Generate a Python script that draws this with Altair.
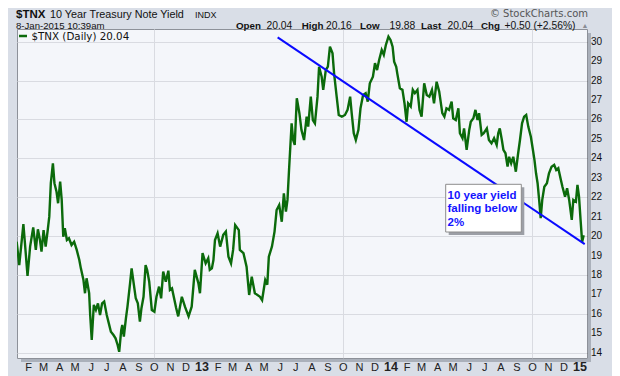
import altair as alt
import pandas as pd

# ---- data ----
dates = [
    "2012-01-09", "2012-01-14", "2012-01-17", "2012-01-22", "2012-01-25", "2012-01-30",
    "2012-02-04", "2012-02-10", "2012-02-15", "2012-02-19", "2012-02-23", "2012-02-26",
    "2012-03-01", "2012-03-05", "2012-03-09", "2012-03-12", "2012-03-15", "2012-03-19",
    "2012-03-22", "2012-03-26", "2012-03-29", "2012-04-02", "2012-04-05", "2012-04-08",
    "2012-04-11", "2012-04-15", "2012-04-19", "2012-04-24", "2012-04-29", "2012-05-04",
    "2012-05-09", "2012-05-12", "2012-05-17", "2012-05-20", "2012-05-23", "2012-05-28",
    "2012-05-30", "2012-06-02", "2012-06-06", "2012-06-10", "2012-06-14", "2012-06-18",
    "2012-06-22", "2012-06-26", "2012-07-01", "2012-07-05", "2012-07-09", "2012-07-14",
    "2012-07-18", "2012-07-22", "2012-07-25", "2012-07-29", "2012-07-31", "2012-08-03",
    "2012-08-07", "2012-08-10", "2012-08-15", "2012-08-18", "2012-08-22", "2012-08-26",
    "2012-08-30", "2012-09-03", "2012-09-06", "2012-09-10", "2012-09-14", "2012-09-17",
    "2012-09-21", "2012-09-26", "2012-10-01", "2012-10-05", "2012-10-10", "2012-10-14",
    "2012-10-18", "2012-10-23", "2012-10-28", "2012-10-31", "2012-11-04", "2012-11-12",
    "2012-11-16", "2012-11-23", "2012-11-29", "2012-12-06", "2012-12-12", "2012-12-18",
    "2012-12-25", "2012-12-28",
    "2013-01-02", "2013-01-08", "2013-01-13", "2013-01-16", "2013-01-20", "2013-01-23",
    "2013-01-26", "2013-01-31", "2013-02-05", "2013-02-11", "2013-02-16", "2013-02-21",
    "2013-02-26", "2013-03-02", "2013-03-06", "2013-03-13", "2013-03-15", "2013-03-22",
    "2013-03-28", "2013-04-02", "2013-04-07", "2013-04-13", "2013-04-23", "2013-04-27",
    "2013-05-03", "2013-05-07", "2013-05-10", "2013-05-16", "2013-05-21", "2013-05-25",
    "2013-05-30", "2013-06-04", "2013-06-08", "2013-06-12", "2013-06-15", "2013-06-18",
    "2013-06-23", "2013-06-26", "2013-06-29", "2013-07-03", "2013-07-08", "2013-07-12",
    "2013-07-17", "2013-07-22", "2013-07-25", "2013-07-30", "2013-08-03", "2013-08-07",
    "2013-08-12", "2013-08-15", "2013-08-20", "2013-08-23", "2013-08-28", "2013-09-01",
    "2013-09-05", "2013-09-10", "2013-09-13", "2013-09-18", "2013-09-22", "2013-09-28",
    "2013-10-04", "2013-10-09", "2013-10-14", "2013-10-17", "2013-10-21", "2013-10-25",
    "2013-10-30", "2013-11-03", "2013-11-08", "2013-11-13", "2013-11-17", "2013-11-21",
    "2013-11-27", "2013-12-01", "2013-12-05", "2013-12-09", "2013-12-14", "2013-12-18",
    "2013-12-22", "2013-12-27", "2013-12-31",
    "2014-01-04", "2014-01-07", "2014-01-11", "2014-01-13", "2014-01-18", "2014-01-23",
    "2014-01-27", "2014-01-31", "2014-02-03", "2014-02-08", "2014-02-12", "2014-02-16",
    "2014-02-21", "2014-02-25", "2014-03-01", "2014-03-06", "2014-03-11", "2014-03-16",
    "2014-03-21", "2014-03-25", "2014-03-30", "2014-04-04", "2014-04-10", "2014-04-14",
    "2014-04-18", "2014-04-23", "2014-04-28", "2014-05-01", "2014-05-06", "2014-05-11",
    "2014-05-14", "2014-05-19", "2014-05-22", "2014-05-27", "2014-06-01", "2014-06-04",
    "2014-06-09", "2014-06-13", "2014-06-17", "2014-06-20", "2014-06-25", "2014-06-29",
    "2014-07-05", "2014-07-09", "2014-07-14", "2014-07-19", "2014-07-24", "2014-07-27",
    "2014-07-30", "2014-08-03", "2014-08-06", "2014-08-10", "2014-08-14", "2014-08-17",
    "2014-08-21", "2014-08-25", "2014-08-30", "2014-09-03", "2014-09-07", "2014-09-11",
    "2014-09-15", "2014-09-19", "2014-09-23", "2014-09-28", "2014-10-02", "2014-10-05",
    "2014-10-08", "2014-10-11", "2014-10-14", "2014-10-17", "2014-10-20", "2014-10-24",
    "2014-10-29", "2014-11-02", "2014-11-07", "2014-11-12", "2014-11-16", "2014-11-20",
    "2014-11-25", "2014-11-28", "2014-12-03", "2014-12-07", "2014-12-11", "2014-12-16",
    "2014-12-19", "2014-12-24", "2014-12-27", "2014-12-30",
    "2015-01-02", "2015-01-05", "2015-01-08",
]

values = [
    19.71, 18.51, 19.29, 20.62, 19.63, 17.95,
    19.46, 20.45, 19.29, 20.35, 19.80, 19.20,
    20.31, 19.46, 20.31, 21.00, 22.72, 23.74,
    22.72, 22.28, 21.69, 22.80, 21.86, 19.97,
    20.40, 19.80, 19.89, 19.54, 19.71, 19.29,
    18.77, 18.34, 17.74, 17.06, 17.83, 17.06,
    15.94, 14.66, 16.46, 16.20, 16.54, 15.94,
    16.54, 16.63, 15.94, 15.51, 15.08, 14.91,
    14.74, 14.40, 14.05, 15.17, 15.43, 14.83,
    15.77, 16.37, 17.57, 18.34, 17.57, 16.80,
    16.54, 15.60, 16.29, 16.88, 18.51, 18.26,
    17.65, 16.20, 16.11, 16.88, 17.40, 16.80,
    18.17, 17.65, 18.22, 17.23, 17.31, 16.30,
    15.87, 16.88, 16.37, 15.87, 16.37, 18.26,
    17.57, 17.06,
    19.12, 18.60, 18.86, 18.26, 18.34, 18.77,
    19.80, 20.14, 19.46, 20.06, 20.23, 18.94,
    18.60, 19.29, 20.57, 20.31, 19.29, 19.12,
    18.43, 16.97, 17.91, 17.06, 16.88, 16.71,
    17.74, 17.50, 18.94, 19.46, 20.23, 21.34,
    21.60, 20.74, 22.20, 21.26, 21.86, 23.40,
    25.80, 24.94, 24.69, 27.09, 26.32, 25.46,
    24.94, 26.14, 25.63, 27.17, 25.97, 25.80,
    27.17, 28.71, 28.20, 27.52, 28.54, 28.71,
    29.74, 29.40, 28.37, 27.17, 26.23, 26.14,
    26.23, 26.49, 27.17, 26.32, 25.29, 24.94,
    25.46, 26.57, 27.26, 27.35, 26.91, 27.86,
    28.20, 28.89, 28.54, 29.06, 29.57, 29.32,
    29.83, 30.26, 30.09,
    29.74, 28.97, 28.71, 28.37, 27.60, 27.52,
    26.83, 25.88, 26.83, 26.66, 27.52, 27.35,
    27.52, 26.49, 26.14, 27.86, 27.26, 27.17,
    27.52, 26.83, 27.94, 27.43, 26.32, 26.14,
    26.57, 26.49, 26.91, 26.06, 25.97, 26.57,
    25.29, 25.03, 25.54, 24.43, 25.46, 25.88,
    26.06, 26.49, 25.97, 26.32, 25.20, 25.29,
    25.54, 24.94, 24.77, 25.03, 24.69, 25.29,
    25.54, 24.94, 24.43, 24.26, 23.57, 24.08,
    23.74, 24.08, 23.31, 24.17, 24.94, 25.80,
    26.14, 26.23, 25.63, 25.11, 24.43, 23.91,
    23.23, 22.72, 21.86, 20.92, 21.86, 22.54,
    22.72, 23.23, 23.57, 23.66, 23.40, 23.49,
    22.89, 22.54, 22.03, 22.46, 21.86, 20.83,
    21.86, 21.77, 22.63, 22.03,
    20.83, 19.70, 20.04,
]

trend_dates = ["2013-05-27", "2015-01-10"]
trend_values = [30.22, 19.59]

y_ticks = list(range(14, 31))
y_tick_labels = [str(v) for v in y_ticks]

month_letters = ["J", "F", "M", "A", "M", "J", "J", "A", "S", "O", "N", "D"]
month_tick_dates = [f"{y}-{m:02d}-01" for y in (2012, 2013, 2014) for m in range(2, 13)]
month_tick_labels = [month_letters[int(d[5:7]) - 1] for d in month_tick_dates]
year_tick_dates = ["2013-01-01", "2014-01-01", "2015-01-01"]
year_tick_labels = ["13", "14", "15"]

annotation_lines = ["10 year yield", "falling below", "2%"]

# ---- layout ----
W, H = 570, 329
df = pd.DataFrame({"date": dates, "yield": values})
tdf = pd.DataFrame({"date": trend_dates, "yield": trend_values})
mdf = pd.DataFrame({"date": month_tick_dates, "label": month_tick_labels})
ydf = pd.DataFrame({"date": year_tick_dates, "label": year_tick_labels})
vdf = pd.DataFrame({"v": y_ticks, "label": y_tick_labels})

x_scale = alt.Scale(
    type="utc",
    domain=[alt.DateTime(year=2012, month=1, date=9, hours=16, utc=True),
            alt.DateTime(year=2015, month=1, date=14, hours=10, utc=True)],
)
y_scale = alt.Scale(domain=[13.73, 30.65], nice=False, zero=False)

all_ticks = sorted(month_tick_dates + year_tick_dates)
is_jan = "utcmonth(datum.value) == 0"
x_axis = alt.Axis(
    values=[alt.DateTime(year=int(d[:4]), month=int(d[5:7]), date=1, utc=True) for d in all_ticks],
    labels=False,
    tickSize=3,
    tickColor="#8a8d95",
    domain=False,
    title=None,
    grid=True,
    gridColor={"condition": {"test": is_jan, "value": "#b3b6bd"}, "value": "#d9dbe1"},
    gridOpacity={"condition": {"test": "utcmonth(datum.value) % 3 == 0", "value": 1}, "value": 0},
    gridWidth=1,
)
y_axis = alt.Axis(
    orient="right",
    values=y_ticks,
    labels=False,
    tickSize=3,
    tickColor="#555555",
    domain=False,
    title=None,
    grid=True,
    gridColor="#d9dbe1",
)

line = alt.Chart(df).mark_line(color="#0b6a0b", strokeWidth=2.4, clip=True).encode(
    x=alt.X("date:T", scale=x_scale, axis=x_axis),
    y=alt.Y("yield:Q", scale=y_scale, axis=y_axis),
)

trend = alt.Chart(tdf).mark_line(color="#0a0aff", strokeWidth=2, clip=True).encode(
    x=alt.X("date:T", scale=x_scale),
    y=alt.Y("yield:Q", scale=y_scale),
)

month_labels = alt.Chart(mdf).mark_text(
    font="Liberation Sans", fontSize=11, color="#222222", baseline="alphabetic", align="center"
).encode(x=alt.X("date:T", scale=x_scale), y=alt.value(H + 13), text="label:N")

year_labels = alt.Chart(ydf).mark_text(
    font="Liberation Sans", fontSize=12.5, fontWeight="bold", color="#222222",
    baseline="alphabetic", align="center"
).encode(x=alt.X("date:T", scale=x_scale), y=alt.value(H + 13), text="label:N")

value_labels = alt.Chart(vdf).mark_text(
    font="Liberation Sans", fontSize=10, color="#111111", baseline="middle", align="left"
).encode(y=alt.Y("v:Q", scale=y_scale), x=alt.value(W + 4), text="label:N")

one = alt.Data(values=[{}])


def box(x1, x2, y1, y2, fill, stroke=None):
    kw = dict(fill=fill)
    if stroke:
        kw.update(stroke=stroke, strokeWidth=1)
    return alt.Chart(one).mark_rect(**kw).encode(
        x=alt.value(x1), x2=alt.value(x2), y=alt.value(y1), y2=alt.value(y2))


def txt(s, x, y, size, weight="normal", color="#111111", font="Liberation Sans", align="left"):
    return alt.Chart(one).mark_text(
        fontSize=size, fontWeight=weight, color=color, font=font, align=align,
        baseline="alphabetic",
    ).encode(x=alt.value(x), y=alt.value(y), text=alt.value(s))


# plot-area shadow (right and bottom)
shadow_r = box(W + 1, W + 4, 4, H + 4, "#aab0ba")
shadow_b = box(4, W + 4, H + 1, H + 4, "#aab0ba")

# annotation box
ann_shadow = box(431.7, 507.3, 158.3, 206, "#9c9fa6")
ann_box = box(428.7, 504.3, 155.3, 203, "#ffffff", "#8c8c8c")
ann_text = alt.Chart(one).mark_text(
    fontSize=11.5, fontWeight="bold", color="#1414ff", font="Liberation Sans",
    align="left", baseline="alphabetic", lineHeight=13.8,
).encode(x=alt.value(430.5), y=alt.value(169.5), text=alt.value(annotation_lines))

# legend inside plot
leg_rule = alt.Chart(one).mark_rule(color="#0b6a0b", strokeWidth=2.5).encode(
    x=alt.value(2), x2=alt.value(10), y=alt.value(7))
leg_text = txt("$TNX (Daily) 20.04", 14.5, 11, 10.3, font="DejaVu Sans")

# header texts
L1, L2 = -11.5, -0.5
hdr = [
    txt("$TNX", -1, L1, 11.5, weight="bold"),
    txt("10 Year Treasury Note Yield", 33, L1, 10.8),
    txt("INDX", 178, L1, 9),
    txt("8-Jan-2015 10:39am", -1, L2, 9.6),
    txt("Open", 219, L2, 9.8, weight="bold"),
    txt("20.04", 249.5, L2, 10.3),
    txt("High", 284.7, L2, 9.8, weight="bold"),
    txt("20.16", 309, L2, 10.3),
    txt("Low", 343, L2, 9.8, weight="bold"),
    txt("19.88", 372.5, L2, 10.3),
    txt("Last", 404, L2, 9.8, weight="bold"),
    txt("20.04", 430.5, L2, 10.3),
    txt("Chg", 464, L2, 9.8, weight="bold"),
    txt("+0.50 (+2.56%)", 487.5, L2, 10.3),
    txt("\u25b2", 568, L2 - 1, 7, color="#8a8d95", align="center"),
    txt("\u00a9 StockCharts.com", 571, -12, 10, color="#555555", align="right", font="DejaVu Sans"),
]

chart = alt.layer(
    shadow_r, shadow_b, line, trend, month_labels, year_labels, value_labels,
    ann_shadow, ann_box, ann_text, leg_rule, leg_text, *hdr
).properties(
    width=W,
    height=H,
    padding={"left": 9, "top": 21, "right": 25, "bottom": 18},
    autosize=alt.AutoSizeParams(type="none"),
).configure(
    background="#d9dee7",
).configure_view(
    fill="#f4f6fa",
    stroke="#8d9199",
    strokeWidth=1,
)

chart.save("out.html", embed_options={"renderer": "svg", "actions": False})
